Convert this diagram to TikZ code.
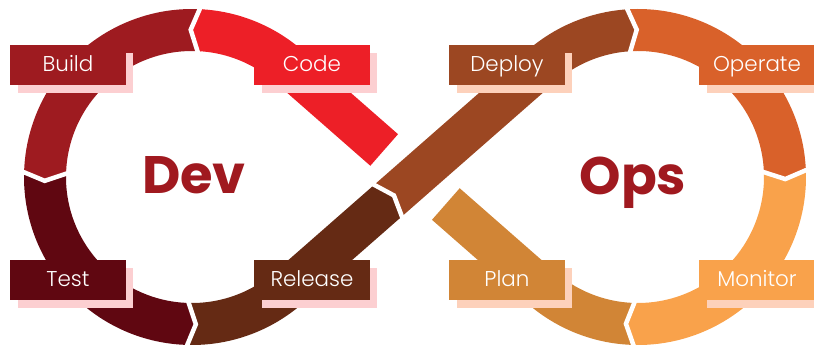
\documentclass[tikz,border=0pt]{standalone}
\usepackage{fontspec}
\setmainfont{Poppins}
\newfontfamily\thinfont{Poppins Light}
\usetikzlibrary{calc,shadows}

\definecolor{codecol}{HTML}{ED1F27}
\definecolor{buildcol}{HTML}{9E1B20}
\definecolor{testcol}{HTML}{600711}
\definecolor{releasecol}{HTML}{652A14}
\definecolor{deploycol}{HTML}{9C4722}
\definecolor{operatecol}{HTML}{D9612A}
\definecolor{monitorcol}{HTML}{F9A24B}
\definecolor{plancol}{HTML}{D18536}
\definecolor{devpink}{HTML}{FCCFD1}
\definecolor{opspeach}{HTML}{FDD1BB}
\definecolor{titlecol}{HTML}{A0191F}

\tikzset{
  band/.style={line width=0.84cm},
  gap/.style={white, line width=0.09cm},
  tag/.style={fill=#1, text=white, minimum width=2.32cm, minimum height=0.8cm,
    inner sep=0pt, text height=7.8pt, text depth=0pt,
    font=\thinfont\fontsize{12.2}{13}\selectfont},
  devshadow/.style={drop shadow={shadow xshift=0.15cm, shadow yshift=-0.16cm,
    fill=devpink, opacity=1}},
  opsshadow/.style={drop shadow={shadow xshift=0.15cm, shadow yshift=-0.16cm,
    fill=opspeach, opacity=1}},
  title/.style={text=titlecol, font=\bfseries\fontsize{30}{30}\selectfont, anchor=base}
}

% head of one stage pointing into the next: point, direction, colour
\newcommand{\stagetip}[3]{%
  \fill[#3] ($(#1)+({#2+90}:21)$) -- ($(#1)+({#2}:9)$) -- ($(#1)+({#2-90}:21)$)
    -- ($(#1)+({#2-90}:21)+({#2+180}:2)$) -- ($(#1)+({#2+90}:21)+({#2+180}:2)$) -- cycle;
  \draw[gap] ($(#1)+({#2+90}:24)$) -- ($(#1)+({#2}:9)$) -- ($(#1)+({#2-90}:24)$);
}

\begin{document}
\begin{tikzpicture}[x=0.02cm,y=0.02cm]
    \useasboundingbox (0,0) rectangle (814,345);

    % Centres of the two loops and the crossing
    \coordinate (L) at (192,168);
    \coordinate (R) at (638,168);
    \coordinate (X) at (415,168);

    % Joints between the stages
    \coordinate (J1) at ([shift={(87:147)}]L);   % code -> build
    \coordinate (J2) at ([shift={(178:147)}]L);  % build -> test
    \coordinate (J3) at ([shift={(268:147)}]L);  % test -> release
    \coordinate (J4) at ($(X)+(221.24:37)$);     % release -> deploy
    \coordinate (J5) at ([shift={(94:147)}]R);   % deploy -> operate
    \coordinate (J6) at ([shift={(2.7:147)}]R);  % operate -> monitor
    \coordinate (J7) at ([shift={(-91.2:147)}]R); % monitor -> plan

    % Dev loop
    \draw[band, codecol] ($(X)+(138.76:41)$) -- ([shift={(48.76:147)}]L)
        arc[start angle=48.76, end angle=87, radius=147];
    \draw[band, buildcol] (J1) arc[start angle=87, end angle=178, radius=147];
    \draw[band, testcol] (J2) arc[start angle=178, end angle=268, radius=147];
    \draw[band, releasecol] (J3) arc[start angle=268, end angle=311.24, radius=147] -- (J4);

    % Ops loop
    \draw[band, deploycol] (J4) -- ([shift={(131.24:147)}]R)
        arc[start angle=131.24, end angle=94, radius=147];
    \draw[band, operatecol] (J5) arc[start angle=94, end angle=2.7, radius=147];
    \draw[band, monitorcol] (J6) arc[start angle=2.7, end angle=-91.2, radius=147];
    \draw[band, plancol] (J7) arc[start angle=-91.2, end angle=-131.24, radius=147]
        -- ($(X)+(-41.24:41)$);

    % Arrow heads
    \stagetip{J1}{177}{codecol}
    \stagetip{J2}{268}{buildcol}
    \stagetip{J3}{358}{testcol}
    \stagetip{J4}{41.24}{releasecol}
    \stagetip{J5}{4}{deploycol}
    \stagetip{J6}{-87.3}{operatecol}
    \stagetip{J7}{178.8}{monitorcol}

    % Stage labels
    \node[tag=buildcol, devshadow] (build) at (68,280) {Build};
    \node[tag=codecol, devshadow] (code) at (312,280) {Code};
    \node[tag=testcol, devshadow] (test) at (68,65) {Test};
    \node[tag=releasecol, devshadow] (release) at (312,65) {Release};
    \node[tag=deploycol, opsshadow] (deploy) at (507,280) {Deploy};
    \node[tag=operatecol, opsshadow] (operate) at (757,280) {Operate};
    \node[tag=plancol, opsshadow] (plan) at (507,65) {Plan};
    \node[tag=monitorcol, opsshadow] (monitor) at (757,65) {Monitor};

    % Titles
    \node[title] (dev) at (194,152) {Dev};
    \node[title] (ops) at (633,151) {Ops};
\end{tikzpicture}
\end{document}
